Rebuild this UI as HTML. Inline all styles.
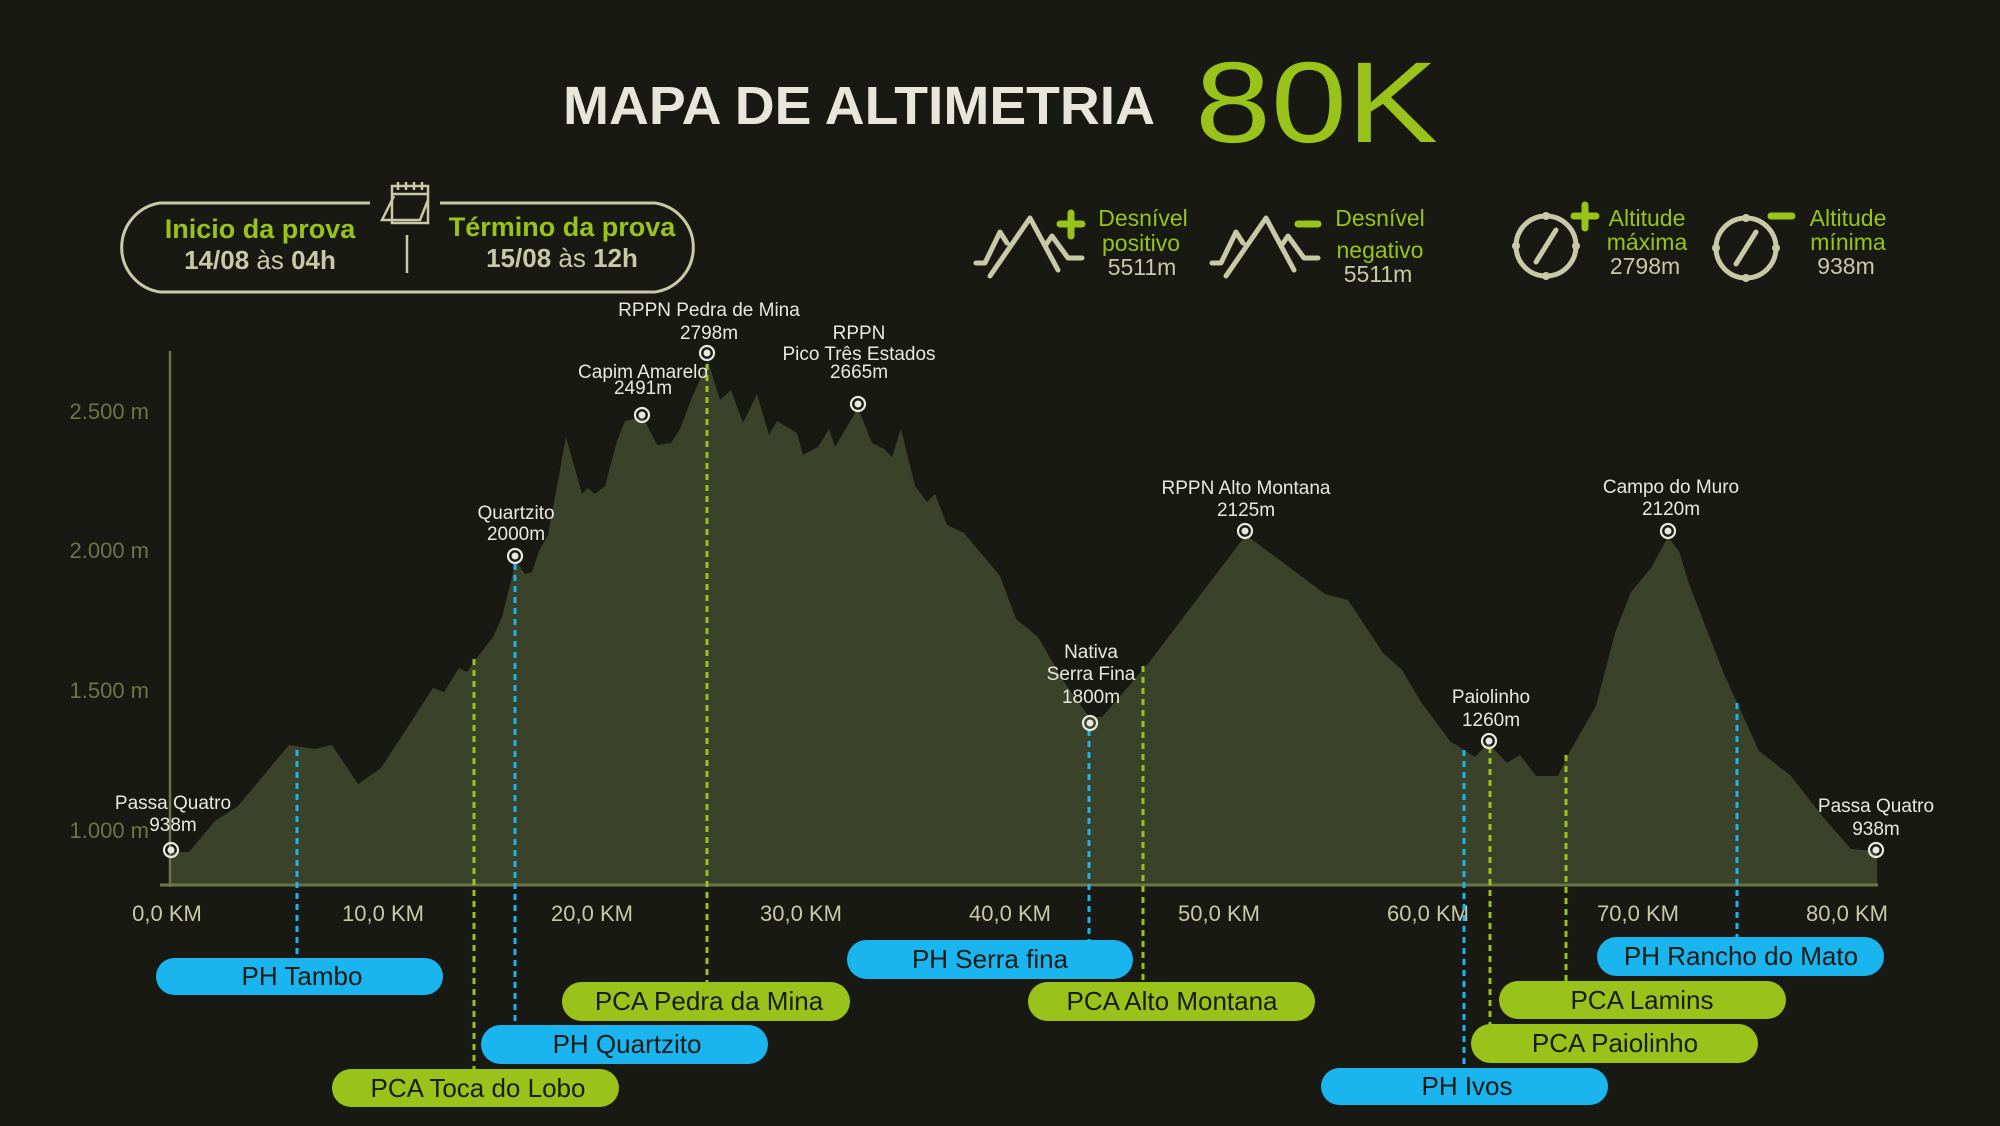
<!DOCTYPE html>
<html><head><meta charset="utf-8"><style>
html,body{margin:0;padding:0;background:#181912;}
svg{display:block}
text{font-family:"Liberation Sans",sans-serif}
</style></head><body>
<svg width="2000" height="1126" viewBox="0 0 2000 1126" xmlns="http://www.w3.org/2000/svg">
<rect width="2000" height="1126" fill="#181912"/>
<!-- title -->
<text x="563" y="124" font-size="54" font-weight="bold" fill="#e8e6da" textLength="592" lengthAdjust="spacingAndGlyphs">MAPA DE ALTIMETRIA</text>
<text x="1195" y="142" font-size="115" fill="#99c31a" textLength="243" lengthAdjust="spacingAndGlyphs">80K</text>

<!-- info pill -->
<path d="M370 203 H160 A45 45 0 0 0 160 292 H655 A45 45 0 0 0 655 203 H440" fill="none" stroke="#c8c9a6" stroke-width="3"/>
<line x1="407" y1="235" x2="407" y2="273" stroke="#c8c9a6" stroke-width="2.5"/>
<g fill="none" stroke="#c8c9a6" stroke-width="2.5">
<rect x="392" y="186" width="36" height="37"/>
<path d="M392 194 H428"/>
<path d="M398 182 V190 M406 182 V190 M414 182 V190 M422 182 V190"/>
<path d="M394 196 L382 220 H420 L428 200"/>
</g>
<text x="260" y="238" font-size="27" font-weight="bold" fill="#99c31a" text-anchor="middle">Inicio da prova</text>
<text x="260" y="269" font-size="26" font-weight="bold" fill="#c8c9a6" text-anchor="middle">14/08 <tspan font-weight="normal">às</tspan> 04h</text>
<text x="562" y="236" font-size="27" font-weight="bold" fill="#99c31a" text-anchor="middle">Término da prova</text>
<text x="562" y="267" font-size="26" font-weight="bold" fill="#c8c9a6" text-anchor="middle">15/08 <tspan font-weight="normal">às</tspan> 12h</text>

<!-- stats icons -->
<g fill="none" stroke="#c8c9a6" stroke-width="5" stroke-linecap="round" stroke-linejoin="round">
<path d="M976 263 H985 L1000 232 L1007 243 M990 276 L1030 218 L1058 270 M1045 246 L1052 236 L1068 258 H1082"/>
<path d="M1212 263 H1221 L1236 232 L1243 243 M1226 276 L1266 218 L1294 270 M1281 246 L1288 236 L1304 258 H1318"/>
<circle cx="1546" cy="246" r="30"/>
<path d="M1536 262 L1556 230"/>
<circle cx="1746" cy="248" r="30"/>
<path d="M1736 264 L1756 232"/>
</g>
<g fill="#c8c9a6"><circle cx="1546" cy="216" r="4"/><circle cx="1546" cy="276" r="4"/><circle cx="1516" cy="246" r="4"/><circle cx="1576" cy="246" r="4"/>
<circle cx="1746" cy="218" r="4"/><circle cx="1746" cy="278" r="4"/><circle cx="1716" cy="248" r="4"/><circle cx="1776" cy="248" r="4"/></g>
<g stroke="#99c31a" stroke-width="7" stroke-linecap="round">
<path d="M1071 213 V236 M1060 224 H1082"/>
<path d="M1298 224 H1318"/>
<path d="M1585 205 V228 M1574 216 H1596"/>
<path d="M1771 216 H1792"/>
</g>
<g font-size="23" text-anchor="middle">
<text x="1143" y="226" fill="#99c31a">Desnível</text>
<text x="1141" y="251" fill="#99c31a">positivo</text>
<text x="1142" y="275" fill="#c8c9a6">5511m</text>
<text x="1380" y="226" fill="#99c31a">Desnível</text>
<text x="1380" y="258" fill="#99c31a">negativo</text>
<text x="1378" y="282" fill="#c8c9a6">5511m</text>
<text x="1647" y="226" fill="#99c31a">Altitude</text>
<text x="1647" y="250" fill="#99c31a">máxima</text>
<text x="1645" y="274" fill="#c8c9a6">2798m</text>
<text x="1848" y="226" fill="#99c31a">Altitude</text>
<text x="1848" y="250" fill="#99c31a">mínima</text>
<text x="1846" y="274" fill="#c8c9a6">938m</text>
</g>

<!-- profile -->
<path fill="#3a4229" d="M170 885 L170 852 L189 852 L215 821 L238 806 L289 745 L315 749 L332 745 L358 784 L381 768 L413 719 L433 688 L444 692 L459 668 L467 672 L476 659 L493 637 L502 617 L516 561 L525 574 L532 572 L539 551 L548 535 L566 437 L582 494 L588 488 L595 494 L605 486 L617 441 L625 421 L643 417 L657 445 L671 443 L680 429 L691 400 L708 361 L720 400 L731 390 L743 423 L757 394 L769 435 L777 421 L797 433 L803 455 L818 447 L829 429 L835 447 L858 408 L872 443 L884 449 L892 457 L901 429 L915 486 L927 502 L935 494 L947 525 L964 533 L1000 576 L1016 619 L1038 637 L1064 682 L1089 717 L1102 717 L1147 665 L1246 535 L1325 594 L1348 600 L1383 653 L1402 670 L1421 702 L1450 741 L1475 757 L1488 743 L1507 763 L1520 755 L1536 776 L1558 776 L1568 755 L1577 739 L1596 706 L1615 633 L1631 592 L1651 568 L1668 537 L1679 551 L1689 584 L1724 674 L1759 751 L1791 776 L1823 817 L1851 849 L1877 851 L1877 885 Z"/>
<!-- axes -->
<line x1="170" y1="351" x2="170" y2="887" stroke="#6b7548" stroke-width="2.5"/>
<line x1="160" y1="885" x2="1878" y2="885" stroke="#6b7548" stroke-width="3"/>
<g font-size="22" fill="#6b7548" text-anchor="end">
<text x="149" y="419">2.500 m</text><text x="149" y="558">2.000 m</text><text x="149" y="698">1.500 m</text><text x="149" y="838">1.000 m</text>
</g>
<g font-size="22" fill="#c8c9a6" text-anchor="middle">
<text x="167" y="921">0,0 KM</text><text x="383" y="921">10,0 KM</text><text x="592" y="921">20,0 KM</text><text x="801" y="921">30,0 KM</text><text x="1010" y="921">40,0 KM</text><text x="1219" y="921">50,0 KM</text><text x="1428" y="921">60,0 KM</text><text x="1638" y="921">70,0 KM</text><text x="1847" y="921">80,0 KM</text>
</g>

<!-- dashed lines -->
<g stroke-width="3" stroke-dasharray="6 5">
<line x1="297" y1="750" x2="297" y2="958" stroke="#1ab4ef"/>
<line x1="474" y1="659" x2="474" y2="1070" stroke="#99c31a"/>
<line x1="515" y1="564" x2="515" y2="1026" stroke="#1ab4ef"/>
<line x1="707" y1="364" x2="707" y2="983" stroke="#99c31a"/>
<line x1="1089" y1="730" x2="1089" y2="941" stroke="#1ab4ef"/>
<line x1="1143" y1="666" x2="1143" y2="983" stroke="#99c31a"/>
<line x1="1464" y1="750" x2="1464" y2="1069" stroke="#1ab4ef"/>
<line x1="1490" y1="747" x2="1490" y2="1025" stroke="#99c31a"/>
<line x1="1566" y1="755" x2="1566" y2="982" stroke="#99c31a"/>
<line x1="1737" y1="703" x2="1737" y2="938" stroke="#1ab4ef"/>
</g>

<!-- markers -->
<g fill="none" stroke="#e8e8e0" stroke-width="2.2">
<circle cx="171" cy="850" r="7"/><circle cx="515" cy="556" r="7"/><circle cx="642" cy="415" r="7"/><circle cx="707" cy="353" r="7"/><circle cx="858" cy="404" r="7"/><circle cx="1090" cy="723" r="7"/><circle cx="1245" cy="531" r="7"/><circle cx="1489" cy="741" r="7"/><circle cx="1668" cy="531" r="7"/><circle cx="1876" cy="850" r="7"/>
</g>
<g fill="#e8e8e0">
<circle cx="171" cy="850" r="3.5"/><circle cx="515" cy="556" r="3.5"/><circle cx="642" cy="415" r="3.5"/><circle cx="707" cy="353" r="3.5"/><circle cx="858" cy="404" r="3.5"/><circle cx="1090" cy="723" r="3.5"/><circle cx="1245" cy="531" r="3.5"/><circle cx="1489" cy="741" r="3.5"/><circle cx="1668" cy="531" r="3.5"/><circle cx="1876" cy="850" r="3.5"/>
</g>
<g font-size="19" fill="#e8e8e0" text-anchor="middle">
<text x="173" y="809">Passa Quatro</text><text x="173" y="831">938m</text>
<text x="516" y="519">Quartzito</text><text x="516" y="540">2000m</text>
<text x="643" y="378">Capim Amarelo</text><text x="643" y="394">2491m</text>
<text x="709" y="316">RPPN Pedra de Mina</text><text x="709" y="339">2798m</text>
<text x="859" y="339">RPPN</text><text x="859" y="360">Pico Três Estados</text><text x="859" y="378">2665m</text>
<text x="1091" y="658">Nativa</text><text x="1091" y="680">Serra Fina</text><text x="1091" y="703">1800m</text>
<text x="1246" y="494">RPPN Alto Montana</text><text x="1246" y="516">2125m</text>
<text x="1491" y="703">Paiolinho</text><text x="1491" y="726">1260m</text>
<text x="1671" y="493">Campo do Muro</text><text x="1671" y="515">2120m</text>
<text x="1876" y="812">Passa Quatro</text><text x="1876" y="835">938m</text>
</g>

<!-- pills -->
<g>
<rect x="156" y="958" width="287" height="37" rx="18.5" fill="#1ab4ef"/>
<rect x="562" y="982" width="288" height="39" rx="19.5" fill="#99c31a"/>
<rect x="481" y="1025" width="287" height="39" rx="19.5" fill="#1ab4ef"/>
<rect x="332" y="1069" width="287" height="38" rx="19" fill="#99c31a"/>
<rect x="847" y="940" width="286" height="39" rx="19.5" fill="#1ab4ef"/>
<rect x="1028" y="982" width="287" height="39" rx="19.5" fill="#99c31a"/>
<rect x="1321" y="1068" width="287" height="37" rx="18.5" fill="#1ab4ef"/>
<rect x="1471" y="1024" width="287" height="39" rx="19.5" fill="#99c31a"/>
<rect x="1499" y="981" width="287" height="38" rx="19" fill="#99c31a"/>
<rect x="1597" y="937" width="287" height="39" rx="19.5" fill="#1ab4ef"/>
</g>
<g font-size="26" fill="#1a1b14" text-anchor="middle">
<text x="302" y="985">PH Tambo</text>
<text x="709" y="1010">PCA Pedra da Mina</text>
<text x="627" y="1053">PH Quartzito</text>
<text x="478" y="1097">PCA Toca do Lobo</text>
<text x="990" y="968">PH Serra fina</text>
<text x="1172" y="1010">PCA Alto Montana</text>
<text x="1467" y="1095">PH Ivos</text>
<text x="1615" y="1052">PCA Paiolinho</text>
<text x="1642" y="1009">PCA Lamins</text>
<text x="1741" y="965">PH Rancho do Mato</text>
</g>
</svg>
</body></html>
